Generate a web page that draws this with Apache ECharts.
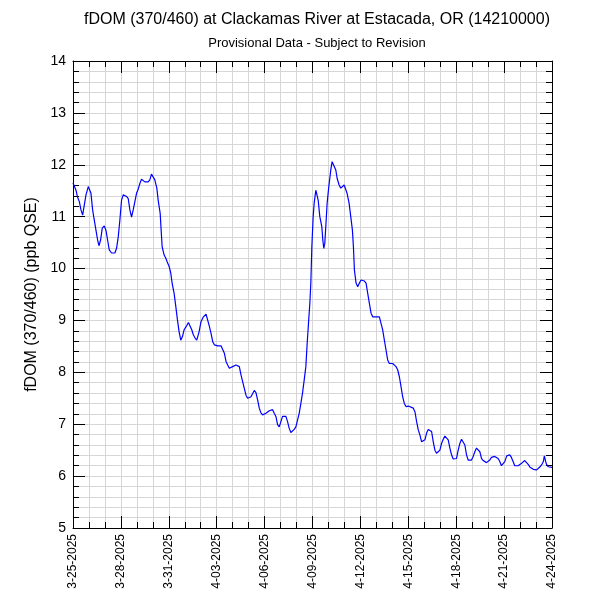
<!DOCTYPE html>
<html>
<head>
<meta charset="utf-8">
<script src="https://cdn.jsdelivr.net/npm/echarts@6/dist/echarts.min.js"></script>
<style>html,body{margin:0;padding:0;background:#fff}#c{width:600px;height:600px}</style>
</head>
<body>
<div id="c"></div>
<script>
// Start of record: 2025-03-25 00:00; hours since start
const startYear = 2025, startMonth = 3, startDay = 25;
const spanDays = 30;
const hoursFromStart = [
  0,1.5,4.5,6.5,9.5,12,14.5,16.5,19.5,23,
  25.5,27,29.5,31.5,34.5,37,39,41.5,44,47,
  49.5,52,54.5,58,60.5,63,65.5,68,70.5,73,
  75.5,78,80.5,83,85.5,88,90.5,93,95.5,98,
  100.5,103,105.5,108,111,113,115.5,118,120.5,123,
  126,128,131,132.5,134,137,139.5,141.5,144.5,147,
  149,152,154.5,157,159.5,162,164.5,167,170,173.5,
  176,178.5,181,183.5,186,188,189.5,192.5,196,200,
  202,204.5,207.5,210,212.5,215,217.5,220,222.5,225,
  227.5,230,232.5,235,237.5,240,242.5,245,247.5,250,
  252.5,255,257.5,260,262.5,265,267.5,270,272.5,275,
  277.5,280,282.5,285,287.5,290,292.5,295,297.5,300,
  302.5,305,307.5,310,312.5,315,317.5,320,322.5,325,
  327.5,330,332.5,335,337.5,340,342.5,345,347.5,350,
  352,354,356,357.5,359,361,362.5,365,366.5,368.5,
  371,374,375.5,377,378.5,380,382,384.5,387.5,389.5,
  392.5,395,397,400,402.5,404.5,407.5,410,412,415,
  417.5,420,421.5,423,425.5,428,430.5,433,435.5,438,
  440.5,443,445.5,448,450.5,453,455.5,458,460.5,463,
  465.5,468,470.5,473,475.5,478,480.5,483,485.5,488,
  490.5,493,495.5,498,500.5,504,506.5,511.5,514,516.5,
  519,521.5,524,526.5,529,531.5,534,536.5,539,541.5,
  544,546.5,549,551.5,554,556.5,559,561.5,564,566.5,
  569,571.5,574,576.5,579,581.5,584,586.5,589,591.5,
  594,596.5,599,601.5,604,606.5,609,611.5,614,616.5,
  619,621.5,624,626.5,629,631.5,634,636.5,639,641.5,
  644,646.5,649,652,654,656.5,659,661.5,664,667,
  669,672,674.5,676.5,679,682,684.5,687,689.5,692,
  694.5,697,699.5,702,704.5,707,708.5,710.5,712,714.5,
  717,720
];
const fdomValues = [
  11.65,11.64,11.51,11.39,11.29,11.13,11.03,11.02,11.42,11.58,
  11.55,11.45,11.13,10.97,10.74,10.55,10.44,10.55,10.78,10.82,
  10.74,10.55,10.36,10.30,10.30,10.30,10.39,10.61,10.94,11.32,
  11.42,11.45,11.39,11.35,11.13,10.99,11.13,11.29,11.45,11.53,
  11.64,11.72,11.72,11.67,11.66,11.67,11.71,11.82,11.80,11.71,
  11.55,11.32,11.07,10.74,10.42,10.26,10.20,10.13,10.04,9.91,
  9.72,9.52,9.27,9.01,8.78,8.62,8.69,8.82,8.88,8.96,
  8.98,8.82,8.72,8.66,8.62,8.65,8.78,8.98,9.07,9.12,
  9.11,8.91,8.75,8.59,8.53,8.53,8.51,8.50,8.51,8.48,
  8.37,8.21,8.14,8.08,8.08,8.11,8.13,8.14,8.17,8.11,
  7.95,7.82,7.69,7.56,7.50,7.53,7.53,7.56,7.65,7.61,
  7.47,7.31,7.22,7.18,7.15,7.21,7.24,7.26,7.28,7.28,
  7.21,7.15,6.99,6.95,7.05,7.15,7.15,7.15,7.05,6.92,
  6.84,6.83,6.90,6.95,7.08,7.21,7.40,7.60,7.85,8.11,
  8.56,8.95,9.33,9.72,10.42,11.00,11.26,11.51,11.48,11.32,
  11.00,10.81,10.55,10.39,10.49,10.81,11.26,11.58,11.90,12.06,
  12.03,11.90,11.74,11.61,11.55,11.58,11.61,11.58,11.45,11.26,
  11.00,10.74,10.42,9.97,9.72,9.65,9.72,9.78,9.78,9.76,
  9.72,9.52,9.33,9.14,9.07,9.07,9.07,9.09,9.07,9.04,
  8.82,8.62,8.43,8.24,8.17,8.17,8.17,8.17,8.11,8.05,
  7.92,7.73,7.53,7.40,7.34,7.35,7.33,7.31,7.24,7.05,
  6.89,6.79,6.66,6.63,6.70,6.83,6.90,6.92,6.86,6.66,
  6.50,6.44,6.45,6.50,6.63,6.71,6.77,6.79,6.70,6.54,
  6.41,6.33,6.31,6.34,6.50,6.63,6.71,6.70,6.60,6.41,
  6.31,6.28,6.31,6.38,6.47,6.54,6.57,6.47,6.34,6.30,
  6.28,6.26,6.25,6.31,6.36,6.39,6.38,6.38,6.34,6.28,
  6.20,6.17,6.28,6.39,6.41,6.41,6.36,6.28,6.20,6.17,
  6.20,6.22,6.25,6.28,6.30,6.28,6.22,6.17,6.15,6.13,
  6.12,6.12,6.09,6.18,6.22,6.28,6.39,6.28,6.22,6.18,
  6.17,6.17
];
const yMin = 5, yMax = 14;

const seriesData = hoursFromStart.map((h, i) => [h / 24, fdomValues[i]]);
function dayLabel(d) {
  const dt = new Date(startYear, startMonth - 1, startDay + Math.round(d));
  const m = dt.getMonth() + 1, dd = String(dt.getDate()).padStart(2, '0');
  return m + '-' + dd + '-' + dt.getFullYear();
}
const FONT = '"Liberation Sans", Arial, Helvetica, sans-serif';
const gridColor = '#d6d6d6';
const axisBase = {
  axisLine: { show: true, onZero: false, lineStyle: { color: '#000', width: 1 } },
  axisTick: { show: true, inside: true, length: 12, lineStyle: { color: '#000', width: 1 } },
  minorTick: { show: true, length: 6, lineStyle: { color: '#000', width: 1 } },
};
const chart = echarts.init(document.getElementById('c'), null, { renderer: 'canvas' });
chart.setOption({
  backgroundColor: '#fff',
  animation: false,
  title: [
    { text: 'fDOM (370/460) at Clackamas River at Estacada, OR (14210000)', left: 312, top: 7, textAlign: 'center',
      textStyle: { fontFamily: FONT, fontSize: 16, fontWeight: 'normal', color: '#000' } },
    { text: 'Provisional Data - Subject to Revision', left: 312, top: 32, textAlign: 'center',
      textStyle: { fontFamily: FONT, fontSize: 13, fontWeight: 'normal', color: '#000' } }
  ],
  grid: { left: 73, right: 48, top: 61, bottom: 72, containLabel: false },
  xAxis: [
    Object.assign({}, axisBase, {
      type: 'value', position: 'bottom', min: 0, max: spanDays, interval: 3,
      minorTick: Object.assign({}, axisBase.minorTick, { splitNumber: 3 }),
      splitLine: { show: true, lineStyle: { color: gridColor, width: 1 } },
      minorSplitLine: { show: true, lineStyle: { color: gridColor, width: 1 } },
      axisLabel: { rotate: 90, margin: 6, fontFamily: FONT, fontSize: 12, color: '#000', formatter: dayLabel }
    }),
    Object.assign({}, axisBase, {
      type: 'value', position: 'top', min: 0, max: spanDays, interval: 3,
      minorTick: Object.assign({}, axisBase.minorTick, { splitNumber: 3 }),
      splitLine: { show: false }, axisLabel: { show: false }
    })
  ],
  yAxis: [
    Object.assign({}, axisBase, {
      type: 'value', position: 'left', min: yMin, max: yMax, interval: 1,
      minorTick: Object.assign({}, axisBase.minorTick, { splitNumber: 5 }),
      splitLine: { show: true, lineStyle: { color: gridColor, width: 1 } },
      minorSplitLine: { show: true, lineStyle: { color: gridColor, width: 1 } },
      axisLabel: { margin: 7, fontFamily: FONT, fontSize: 14, color: '#000' },
      name: 'fDOM (370/460) (ppb QSE)', nameLocation: 'middle', nameGap: 31,
      nameTextStyle: { fontFamily: FONT, fontSize: 16, color: '#000' }
    }),
    Object.assign({}, axisBase, {
      type: 'value', position: 'right', min: yMin, max: yMax, interval: 1,
      minorTick: Object.assign({}, axisBase.minorTick, { splitNumber: 5 }),
      splitLine: { show: false }, axisLabel: { show: false }
    })
  ],
  series: [{
    type: 'line', xAxisIndex: 0, yAxisIndex: 0, data: seriesData,
    showSymbol: false, symbol: 'none', smooth: false,
    lineStyle: { color: '#0000ff', width: 1.2 }
  }]
});
</script>
</body>
</html>
